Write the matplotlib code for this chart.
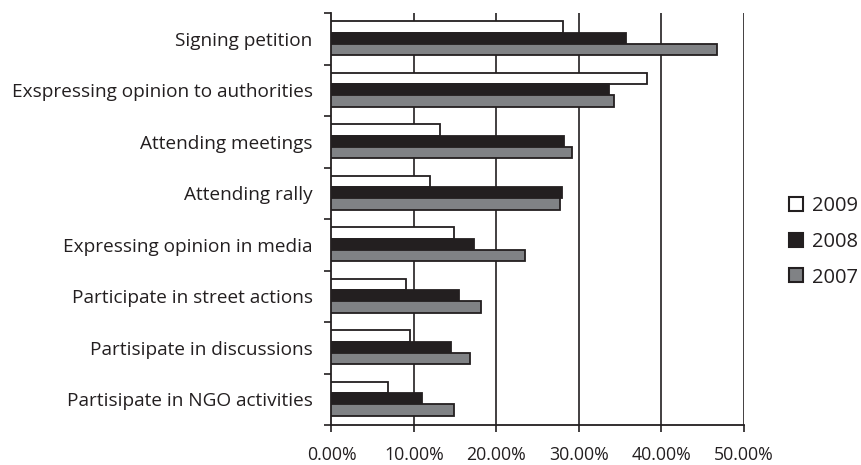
import matplotlib
matplotlib.use("Agg")
import matplotlib.pyplot as plt
import numpy as np
from matplotlib.ticker import FuncFormatter, FixedLocator
from matplotlib.lines import Line2D

categories = ["Signing petition", "Exspressing opinion to authorities", "Attending meetings",
              "Attending rally", "Expressing opinion in media", "Participate in street actions",
              "Partisipate in discussions", "Partisipate in NGO activities"]
v2009 = [28.1, 38.3, 13.2, 11.9, 14.8, 9.0, 9.5, 6.8]
v2008 = [35.7, 33.6, 28.2, 28.0, 17.3, 15.5, 14.5, 11.0]
v2007 = [46.7, 34.2, 29.1, 27.7, 23.5, 18.1, 16.8, 14.8]
years = ["2009", "2008", "2007"]
xticks = [0, 10, 20, 30, 40, 50]

dark = "#231f20"
colors = ["#ffffff", "#231f20", "#808285"]

plt.rcParams['font.family'] = ['Open Sans', 'DejaVu Sans']
fig = plt.figure(figsize=(8.61, 4.65), dpi=100)
ax = fig.add_axes([0.385, 0.086, 0.479, 0.886])

n = len(categories)
pos = np.arange(n)[::-1]  # top category at top
h = 0.22
series = [v2009, v2008, v2007]
offsets = [h, 0, -h]
for vals, c, off in zip(series, colors, offsets):
    ax.barh(pos + off + 0.01, vals, height=h, color=c, edgecolor=dark, linewidth=1.3, zorder=3)

ax.set_xlim(0, 50)
ax.set_ylim(-0.5, n - 0.5)
ax.set_xticks(xticks)
ax.xaxis.set_major_formatter(FuncFormatter(lambda v, p: f"{v:.2f}%"))
ax.set_yticks(pos)
ax.set_yticklabels(categories)
ax.yaxis.set_minor_locator(FixedLocator(np.arange(n + 1) - 0.5))
ax.tick_params(axis='y', which='major', length=0, pad=13.5, labelsize=13.7, labelcolor=dark)
ax.tick_params(axis='y', which='minor', length=5, width=1.2, color=dark, direction='out')
ax.tick_params(axis='x', which='major', length=5, width=1.2, color=dark, direction='out',
               labelsize=12.8, labelcolor=dark, pad=10)
for x in xticks[1:]:
    ax.axvline(x, color=dark, linewidth=1.2, zorder=1)
for s in ['top', 'right']:
    ax.spines[s].set_visible(False)
for s in ['left', 'bottom']:
    ax.spines[s].set_color(dark)
    ax.spines[s].set_linewidth(1.3)

handles = [Line2D([], [], marker='s', linestyle='none', markersize=10.5,
                  markerfacecolor=c, markeredgecolor=dark, markeredgewidth=1.5)
           for c in colors]
fig.legend(handles, years, loc='center left', bbox_to_anchor=(0.915, 0.48),
           frameon=False, fontsize=14.5, handletextpad=0.4, labelspacing=0.78,
           labelcolor=dark, handlelength=0.8, borderpad=0, borderaxespad=0)

fig.savefig("out.png", dpi=100)
